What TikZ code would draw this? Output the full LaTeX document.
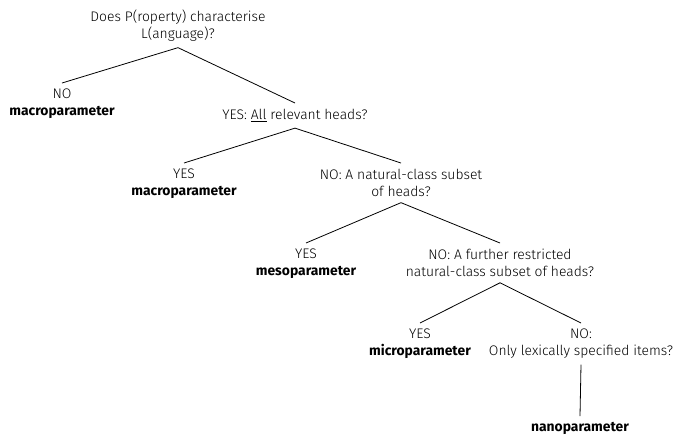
\documentclass[tikz,border=0pt]{standalone}
\usepackage{fontspec}
\setmainfont{Fira Sans Light}[BoldFont={Fira Sans Bold}]
\usepackage{tikz}
\usetikzlibrary{positioning}

\begin{document}
\begin{tikzpicture}[x=0.75pt, y=-0.75pt, font=\fontsize{10.4}{12.9}\selectfont,
  choice/.style={align=center, anchor=north, inner xsep=0pt, inner ysep=4.3pt},
  branch/.style={line width=0.6pt}]
\useasboundingbox (0,0) rectangle (678,437);

% Top question
\node[choice] (root) at (178,4) {Does P(roperty) characterise\\L(anguage)?};
\node[choice] (no-macro) at (62,83) {NO\\\textbf{macroparameter}};
\node[choice] (all-heads) at (295,103) {YES: \underline{All} relevant heads?};

% Second level
\node[choice] (yes-macro) at (184,163) {YES\\\textbf{macroparameter}};
\node[choice] (class-subset) at (401,163) {NO: A natural-class subset\\of heads?};

% Third level
\node[choice] (yes-meso) at (306,243) {YES\\\textbf{mesoparameter}};
\node[choice] (restricted-subset) at (500,243) {NO: A further restricted\\natural-class subset of heads?};

% Fourth level
\node[choice] (yes-micro) at (420,323) {YES\\\textbf{microparameter}};
\node[choice] (lexical) at (581,323) {NO:\\Only lexically specified items?};
\node[choice] (nano) at (580,416) {\textbf{nanoparameter}};

% Branches
\draw[branch] (root.south) -- (no-macro.north);
\draw[branch] (root.south) -- (all-heads.north);
\draw[branch] (all-heads.south) -- (yes-macro.north);
\draw[branch] (all-heads.south) -- (class-subset.north);
\draw[branch] (class-subset.south) -- (yes-meso.north);
\draw[branch] (class-subset.south) -- (restricted-subset.north);
\draw[branch] (restricted-subset.south) -- (yes-micro.north);
\draw[branch] (restricted-subset.south) -- (lexical.north);
\draw[branch] (lexical.south) -- (nano.north);

\end{tikzpicture}
\end{document}
